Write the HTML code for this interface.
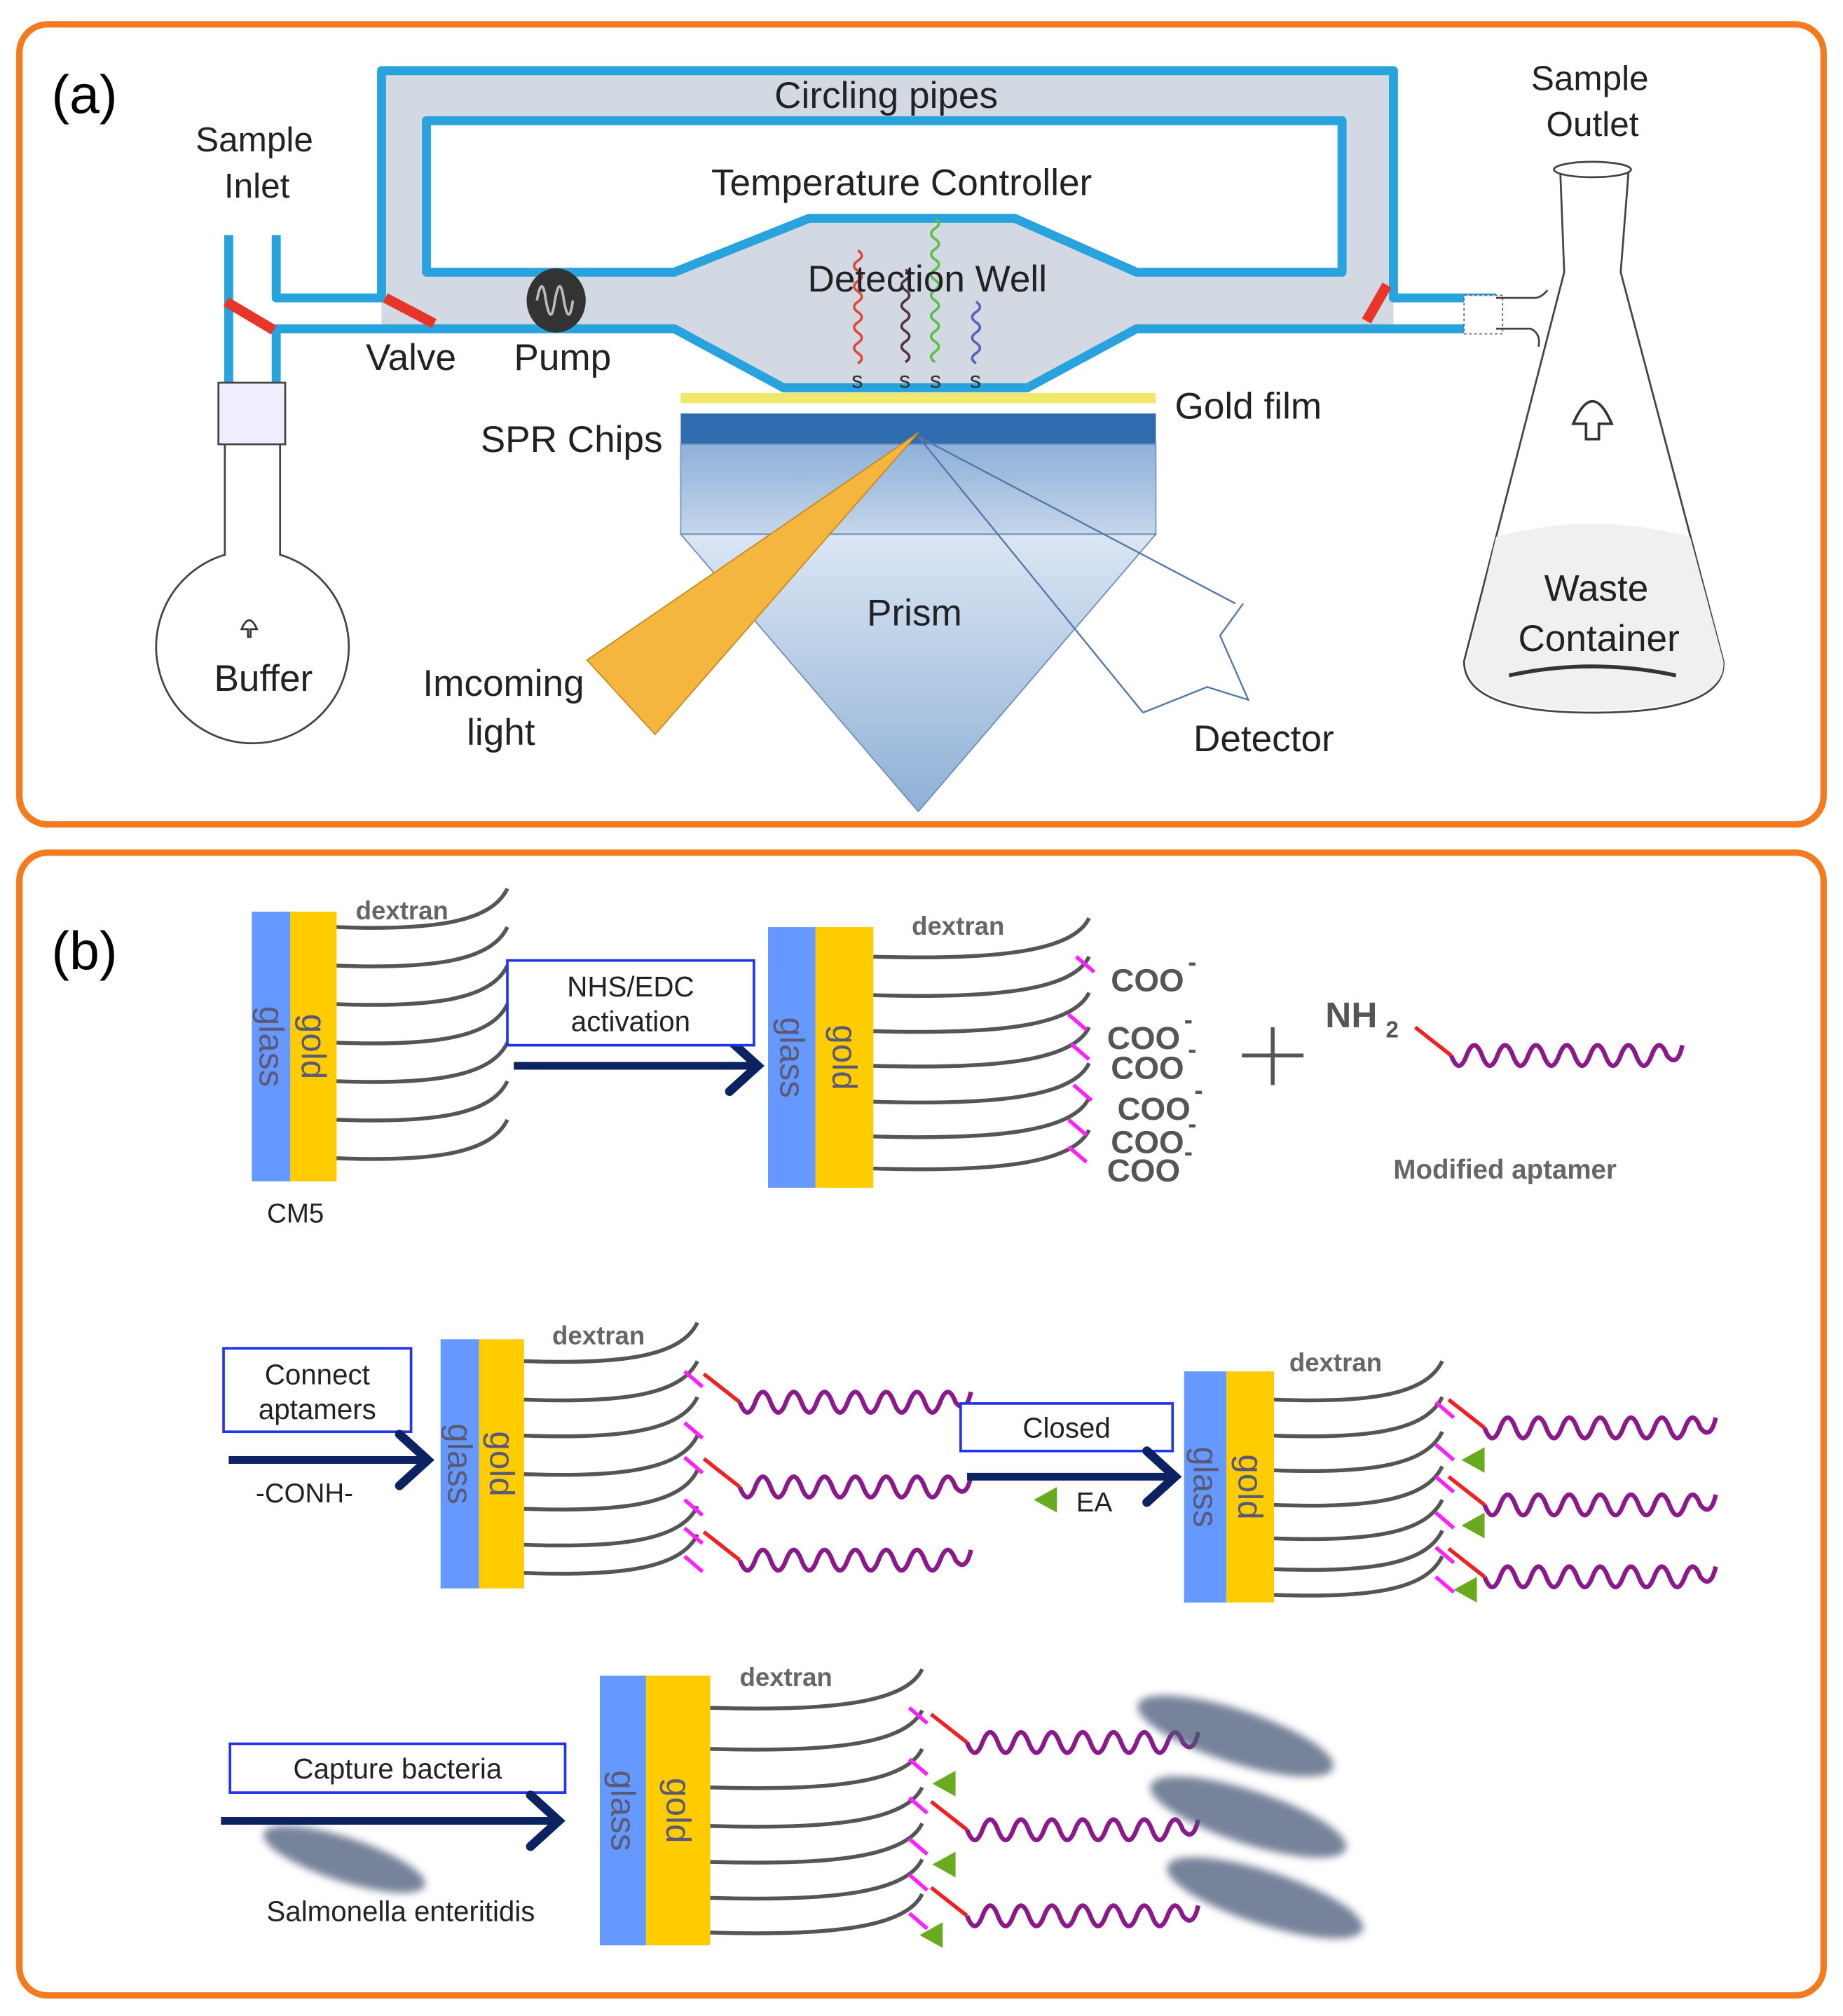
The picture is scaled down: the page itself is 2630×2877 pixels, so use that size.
<!DOCTYPE html>
<html><head><meta charset="utf-8"><style>
html,body{margin:0;padding:0;background:#fff}
svg{display:block}
text{font-family:"Liberation Sans",sans-serif}
</style></head><body>
<svg id="s" width="2630" height="2877" viewBox="0 0 1435 1570" xmlns="http://www.w3.org/2000/svg">
<defs>
<linearGradient id="pg" x1="0" y1="0" x2="0" y2="1"><stop offset="0" stop-color="#dbe6f3"/><stop offset="1" stop-color="#8fb0d6"/></linearGradient>
<linearGradient id="cg" x1="0" y1="0" x2="0" y2="1"><stop offset="0" stop-color="#8eb0d8"/><stop offset="1" stop-color="#c4d6ea"/></linearGradient>
<filter id="bl"><feGaussianBlur stdDeviation="3"/></filter>
</defs>
<rect x="15" y="19" width="1405" height="623" rx="22" fill="none" stroke="#f47a20" stroke-width="5"/>
<rect x="15" y="664" width="1405" height="890" rx="22" fill="none" stroke="#f47a20" stroke-width="5"/>
<text x="40" y="88" font-size="42">(a)</text>
<text x="40" y="755" font-size="42">(b)</text>

<rect x="297" y="55" width="788" height="200" fill="#d3d9e3"/>
<rect x="332" y="94" width="713" height="118" fill="#fff"/>
<polygon points="525,212 630,170 790,170 885,212 885,255 800,302 610,302 525,255" fill="#d3d9e3"/>
<g fill="none" stroke="#29a3dd" stroke-width="7" stroke-linejoin="round">
<path d="M215,183 V232 H297 V55 H1085 V232 H1165"/>
<path d="M178,183 V300"/>
<path d="M215,300 V256 H525 L610,302 H800 L885,256 H1165"/>
<path d="M332,212 V94 H1045 V212 H885 L790,170 H630 L525,212 Z"/>
</g>
<g stroke="#e8352a" stroke-width="8">
<line x1="176" y1="235" x2="213" y2="257"/><line x1="300" y1="232" x2="338" y2="252"/><line x1="1064" y1="250" x2="1080" y2="222"/>
</g>
<ellipse cx="433" cy="234" rx="23" ry="25" fill="#333"/>
<path d="M418,234 q4,-22 7,0 q4,22 7,0 q4,-22 7,0 q4,22 7,0" fill="none" stroke="#bbb" stroke-width="2"/>
<g fill="none" stroke-width="2">
<path d="M668,195 q6,4 0,8 q-6,4 0,8 q6,4 0,8 q-6,4 0,8 q6,4 0,8 q-6,4 0,8 q6,4 0,8 q-6,4 0,8 q6,4 0,8 q-6,4 0,8 q6,4 0,8" stroke="#e0483a"/>
<path d="M705,210 q6,4 0,8 q-6,4 0,8 q6,4 0,8 q-6,4 0,8 q6,4 0,8 q-6,4 0,8 q6,4 0,8 q-6,4 0,8 q6,4 0,8" stroke="#553344"/>
<path d="M728,170 q6,4 0,8 q-6,4 0,8 q6,4 0,8 q-6,4 0,8 q6,4 0,8 q-6,4 0,8 q6,4 0,8 q-6,4 0,8 q6,4 0,8 q-6,4 0,8 q6,4 0,8 q-6,4 0,8 q6,4 0,8 q-6,4 0,8" stroke="#5cbf4a"/>
<path d="M760,235 q6,4 0,8 q-6,4 0,8 q6,4 0,8 q-6,4 0,8 q6,4 0,8 q-6,4 0,8" stroke="#5566bb"/>
</g>
<g font-size="18" fill="#333"><text x="663" y="302">s</text><text x="700" y="302">s</text><text x="724" y="302">s</text><text x="755" y="302">s</text></g>
<rect x="530" y="306" width="370" height="8" fill="#f0e86a"/>
<rect x="530" y="322" width="370" height="24" fill="#2f6db0"/>
<rect x="530" y="346" width="370" height="70" fill="url(#cg)" stroke="#7a97bd" stroke-width="1"/>
<polygon points="530,416 900,416 715,632" fill="url(#pg)" stroke="#6f8fb8" stroke-width="1"/>
<polygon points="457,514 510,572 715,337" fill="#f4b63f" stroke="#c98a20" stroke-width="1"/>
<g fill="none" stroke="#5577aa" stroke-width="1.3">
<line x1="715" y1="340" x2="890" y2="555"/><line x1="715" y1="340" x2="962" y2="470"/>
<path d="M890,555 L940,535 L972,545 L950,495 L968,470"/>
</g>
<g fill="#fff" stroke="#444" stroke-width="1.5">
<path d="M175,345 V432 A75,75 0 1 0 218,432 V345 Z"/>
<rect x="170" y="298" width="52" height="48" fill="#eef"/>
</g>
<path d="M188,490 q6,-14 12,0 h-5 v6 h-2 v-6 z" fill="none" stroke="#333" stroke-width="1.5"/>
<g fill="#fff" stroke="#444" stroke-width="1.5">
<path d="M1215,135 L1218,212 L1140,515 Q1140,555 1240,555 Q1345,555 1342,515 L1262,212 L1268,135 Z"/>
<path d="M1165,418 Q1240,398 1316,418 L1342,515 Q1345,553 1240,553 Q1142,553 1142,515 Z" fill="#f0f0f0" stroke="none"/>
<ellipse cx="1240" cy="132" rx="30" ry="6"/>
</g>
<path d="M1175,526 Q1240,512 1305,526" fill="none" stroke="#333" stroke-width="3"/>
<path d="M1225,330 q15,-35 30,0 h-10 v12 h-10 v-12 z" fill="none" stroke="#333" stroke-width="2"/>
<rect x="1140" y="230" width="30" height="30" fill="#fff" stroke="#666" stroke-dasharray="2,2"/>
<path d="M1165,232 H1195 Q1200,232 1205,226 M1165,256 H1192 Q1200,260 1198,270" fill="none" stroke="#444" stroke-width="1.5"/>
<g font-size="29" fill="#222" text-anchor="middle">
<text x="690" y="84">Circling pipes</text>
<text x="702" y="152">Temperature Controller</text>
<text x="722" y="227">Detection Well</text>
<text x="198" y="118" font-size="27">Sample</text><text x="200" y="154" font-size="27">Inlet</text>
<text x="1238" y="70" font-size="27">Sample</text><text x="1240" y="106" font-size="27">Outlet</text>
<text x="320" y="288">Valve</text><text x="438" y="288">Pump</text>
<text x="445" y="352">SPR Chips</text>
<text x="972" y="326">Gold  film</text>
<text x="712" y="487">Prism</text>
<text x="392" y="542">Imcoming</text><text x="390" y="580">light</text>
<text x="984" y="585">Detector</text>
<text x="205" y="538">Buffer</text>
<text x="1243" y="468">Waste</text><text x="1245" y="507">Container</text>
</g>
<g id="b"></g>
</svg>
<script>
var g=document.getElementById('b'),h='';
function chip(gx,gw,ow,y0,y1,ex,ys,lab,lx,ly){
 h+='<rect x="'+gx+'" y="'+y0+'" width="'+gw+'" height="'+(y1-y0)+'" fill="#6699ff"/>';
 h+='<rect x="'+(gx+gw)+'" y="'+y0+'" width="'+ow+'" height="'+(y1-y0)+'" fill="#ffcc00"/>';
 var cy=(y0+y1)/2;
 h+='<text transform="translate('+(gx+gw/2-9)+','+cy+') rotate(90)" text-anchor="middle" font-size="27" fill="#5a5a78">glass</text>';
 h+='<text transform="translate('+(gx+gw+ow/2-9)+','+cy+') rotate(90)" text-anchor="middle" font-size="27" fill="#5a5a78">gold</text>';
 var x0=gx+gw+ow;
 ys.forEach(function(y){
  h+='<path d="M'+x0+','+y+' C'+(x0+(ex-x0)*0.6)+','+(y+3)+' '+(ex-12)+','+(y-5)+' '+ex+','+(y-30)+'" fill="none" stroke="#555" stroke-width="3"/>';
 });
 h+='<text x="'+lx+'" y="'+ly+'" font-size="20" font-weight="bold" fill="#666" text-anchor="middle">dextran</text>';
}
function wave(x,y,len,red){
 var s='';
 if(red){s+='<line x1="'+x+'" y1="'+(y-22)+'" x2="'+(x+28)+'" y2="'+y+'" stroke="#ee2222" stroke-width="3"/>';x+=28;}
 var d='M'+x+','+y,n=Math.floor(len/24);
 for(var i=0;i<n;i++){d+=' q6,16 12,0 q6,-16 12,0';}
 d+=' q8,10 12,-8';
 s+='<path d="'+d+'" fill="none" stroke="#8a1a8a" stroke-width="3.5"/>';
 return s;
}
function tick(x,y){return '<line x1="'+x+'" y1="'+y+'" x2="'+(x+14)+'" y2="'+(y+12)+'" stroke="#ff22ff" stroke-width="3"/>';}
function tri(x,y){return '<polygon points="'+x+','+y+' '+(x+18)+','+(y-10)+' '+(x+18)+','+(y+10)+'" fill="#6aaa20"/>';}
function arrow(x1,x2,y){return '<line x1="'+x1+'" y1="'+y+'" x2="'+(x2-4)+'" y2="'+y+'" stroke="#0d2260" stroke-width="6"/><path d="M'+(x2-22)+','+(y-20)+' L'+x2+','+y+' L'+(x2-22)+','+(y+20)+'" fill="none" stroke="#0d2260" stroke-width="7" stroke-linecap="round"/>';}
function box(x,y,w,hh,t1,t2){var s='<rect x="'+x+'" y="'+y+'" width="'+w+'" height="'+hh+'" fill="#fff" stroke="#2233ee" stroke-width="2"/>';
 if(t2){s+='<text x="'+(x+w/2)+'" y="'+(y+28)+'" font-size="22" text-anchor="middle" fill="#222">'+t1+'</text><text x="'+(x+w/2)+'" y="'+(y+55)+'" font-size="22" text-anchor="middle" fill="#222">'+t2+'</text>';}
 else s+='<text x="'+(x+w/2)+'" y="'+(y+hh/2+8)+'" font-size="22" text-anchor="middle" fill="#222">'+t1+'</text>';return s;}
function bact(x,y,w){h+='<g filter="url(#bl)"><ellipse cx="'+x+'" cy="'+y+'" rx="'+w+'" ry="'+(w*0.26)+'" transform="rotate(18 '+x+' '+y+')" fill="#4b5878" opacity="0.75"/></g>';}
chip(196,30,36,710,920,395,[722,752,782,812,842,872,902],'',313,716);
chip(598,37,45,722,925,848,[745,775,803,830,858,885,910],'',746,728);
[[838,745],[832,790],[834,813],[836,845],[832,872],[832,893]].forEach(function(p){h+=tick(p[0],p[1]);});
[[865,772],[862,817],[865,840],[870,872],[865,898],[862,920]].forEach(function(p){h+='<text x="'+p[0]+'" y="'+p[1]+'" font-size="25" font-weight="bold" fill="#555">COO</text><text x="'+(p[0]+60)+'" y="'+(p[1]-16)+'" font-size="20" font-weight="bold" fill="#555">-</text>';});
h+='<line x1="967" y1="822" x2="1015" y2="822" stroke="#555" stroke-width="3"/><line x1="991" y1="800" x2="991" y2="845" stroke="#555" stroke-width="3"/>';
h+='<text x="1032" y="800" font-size="28" font-weight="bold" fill="#555">NH</text><text x="1079" y="808" font-size="18" font-weight="bold" fill="#555">2</text>';
h+=wave(1102,822,170,true);
h+='<text x="1085" y="918" font-size="21" font-weight="bold" fill="#666">Modified aptamer</text>';
h+='<text x="230" y="952" font-size="21" fill="#222" text-anchor="middle">CM5</text>';
h+=arrow(400,590,830)+box(395,748,192,66,'NHS/EDC','activation');
chip(343,30,35,1043,1237,543,[1060,1090,1118,1148,1175,1203,1225],'',466,1047);
[[533,1068],[533,1108],[533,1135],[533,1168],[533,1190],[533,1212]].forEach(function(p){h+=tick(p[0],p[1]);});
h+=wave(548,1092,170,true)+wave(548,1158,170,true)+wave(548,1215,170,true);
h+=box(174,1050,146,65,'Connect','aptamers')+arrow(178,333,1137);
h+='<text x="237" y="1170" font-size="21" text-anchor="middle" fill="#222">-CONH-</text>';
chip(922,33,37,1068,1248,1123,[1090,1118,1145,1172,1198,1222,1242],'',1040,1068);
[[1118,1092],[1118,1125],[1118,1150],[1118,1178],[1118,1205],[1118,1228]].forEach(function(p){h+=tick(p[0],p[1]);});
h+=wave(1128,1112,180,true)+wave(1128,1172,180,true)+wave(1128,1228,180,true);
h+=tri(1138,1137)+tri(1138,1188)+tri(1132,1238);
h+=box(748,1093,165,37,'Closed')+arrow(753,915,1150)+tri(805,1168);
h+='<text x="852" y="1177" font-size="21" text-anchor="middle" fill="#222">EA</text>';
chip(467,36,50,1305,1515,718,[1330,1362,1392,1422,1450,1478,1505],'',612,1313);
[[708,1330],[708,1370],[708,1400],[708,1432],[708,1460],[708,1490]].forEach(function(p){h+=tick(p[0],p[1]);});
h+=wave(725,1357,170,true)+wave(725,1425,170,true)+wave(725,1492,170,true);
h+=tri(726,1389)+tri(726,1452)+tri(716,1507);
bact(962,1352,80);bact(972,1415,80);bact(985,1478,80);bact(268,1448,66);
h+=box(179,1358,261,38,'Capture bacteria')+arrow(172,435,1418);
h+='<text x="312" y="1496" font-size="22" text-anchor="middle" fill="#222">Salmonella enteritidis</text>';
g.innerHTML=h;
</script>
</body></html>
